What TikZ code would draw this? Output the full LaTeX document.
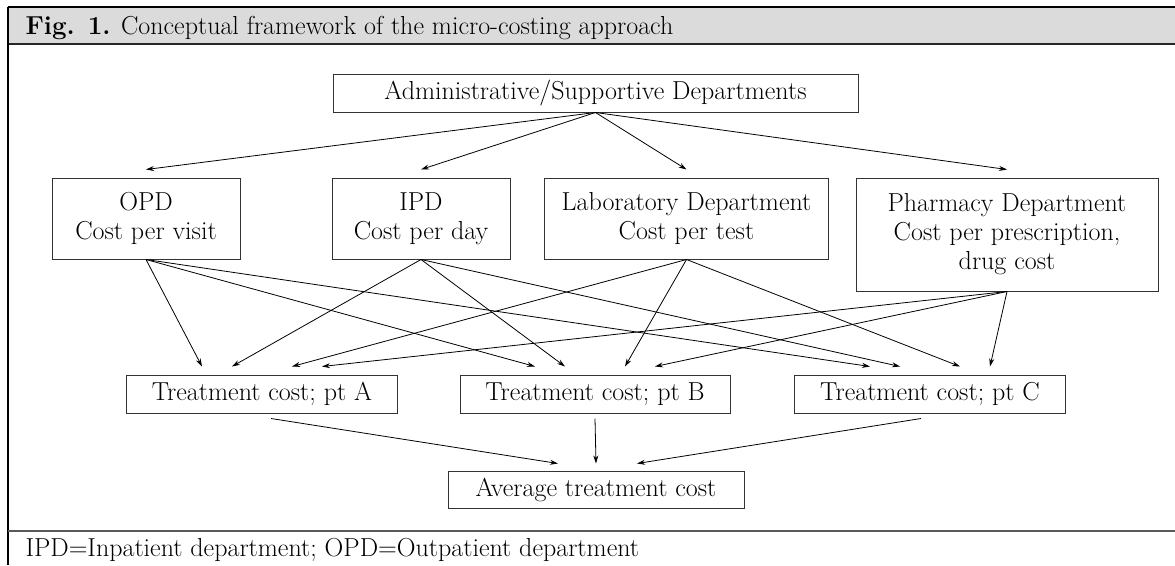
\documentclass[tikz,border=0pt]{standalone}
\usetikzlibrary{arrows.meta}

\tikzset{every picture/.append style={x=1pt, y=-1pt}}
\tikzset{
  txt/.style={font=\fontsize{26}{29}\selectfont},
  box/.style={txt, draw=black!80, line width=1pt, align=center, inner sep=0pt},
  link/.style={line width=0.8pt, -{Stealth[length=8pt, width=5pt]}},
}

\begin{document}
\begin{tikzpicture}
  \useasboundingbox (0,0) rectangle (1175,565);
  % frame
  \fill[black!14] (8,7) rectangle (1175,44);
  \draw[line width=2pt] (8,7) -- (1175,7);
  \draw[line width=1.5pt, black!85] (8,44) -- (1175,44);
  \draw[line width=1.2pt] (8,7) -- (8,565);
  \draw[line width=2pt, black!65] (8,531) -- (1175,531);
  \node[txt, anchor=base west] (title) at (22,34) {\textbf{Fig. 1.} Conceptual framework of the micro-costing approach};
  \node[txt, anchor=base west] (note) at (22,556) {IPD=Inpatient department; OPD=Outpatient department};

  % boxes
  \node[box, minimum width=525, minimum height=38] (admin) at (595.5,93) {Administrative/Supportive Departments};
  \node[box, minimum width=188, minimum height=81] (opd) at (146,218.5) {OPD\\Cost per visit};
  \node[box, minimum width=178, minimum height=81] (ipd) at (421,218.5) {IPD\\Cost per day};
  \node[box, minimum width=284, minimum height=81] (lab) at (686.5,218.5) {Laboratory Department\\Cost per test};
  \node[box, minimum width=302, minimum height=113] (pharm) at (1007,234.5) {Pharmacy Department\\Cost per prescription,\\drug cost};
  \node[box, minimum width=271, minimum height=38] (ptA) at (262,394) {Treatment cost; pt A};
  \node[box, minimum width=270, minimum height=38] (ptB) at (595,394) {Treatment cost; pt B};
  \node[box, minimum width=271, minimum height=38] (ptC) at (930,394) {Treatment cost; pt C};
  \node[box, minimum width=296, minimum height=37] (avg) at (596,489.5) {Average treatment cost};

  % admin to departments
  \draw[link] (admin.south) -- ([yshift=8]opd.north);
  \draw[link] (admin.south) -- ([yshift=8]ipd.north);
  \draw[link] (admin.south) -- ([yshift=8]lab.north);
  \draw[link] (admin.south) -- ([yshift=8]pharm.north);

  % departments to patients
  \draw[link] (opd.south) -- ([xshift=-60, yshift=8]ptA.north);
  \draw[link] (opd.south) -- ([xshift=-60, yshift=8]ptB.north);
  \draw[link] (opd.south) -- ([xshift=-60, yshift=8]ptC.north);
  \draw[link] (ipd.south) -- ([xshift=-30, yshift=8]ptA.north);
  \draw[link] (ipd.south) -- ([xshift=-30, yshift=8]ptB.north);
  \draw[link] (ipd.south) -- ([xshift=-30, yshift=8]ptC.north);
  \draw[link] (lab.south) -- ([xshift=30, yshift=8]ptA.north);
  \draw[link] (lab.south) -- ([xshift=30, yshift=8]ptB.north);
  \draw[link] (lab.south) -- ([xshift=30, yshift=8]ptC.north);
  \draw[link] (pharm.south) -- ([xshift=60, yshift=8]ptA.north);
  \draw[link] (pharm.south) -- ([xshift=60, yshift=8]ptB.north);
  \draw[link] (pharm.south) -- ([xshift=60, yshift=8]ptC.north);

  % patients to average
  \draw[link] ([xshift=9, yshift=-5]ptA.south) -- ([xshift=-38, yshift=7]avg.north);
  \draw[link] ([yshift=-5]ptB.south) -- ([yshift=7]avg.north);
  \draw[link] ([xshift=-9, yshift=-5]ptC.south) -- ([xshift=41, yshift=7]avg.north);
\end{tikzpicture}
\end{document}
